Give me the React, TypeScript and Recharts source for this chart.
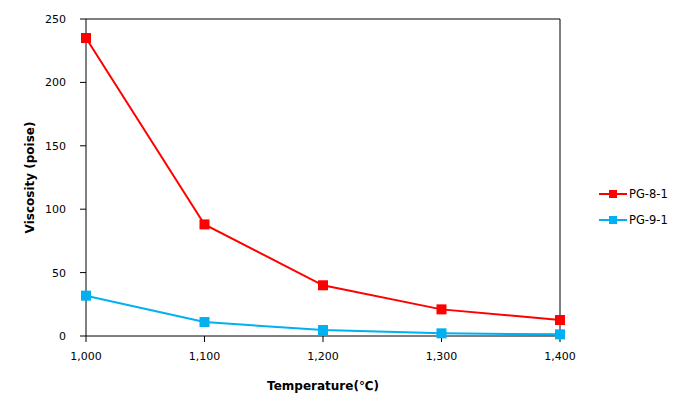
import { LineChart, Line, XAxis, YAxis, ReferenceLine, Label } from 'recharts';

const temperatures = [1000, 1100, 1200, 1300, 1400];
const pg81 = [235, 88, 40, 21, 12.6];
const pg91 = [31.8, 11, 4.7, 2.1, 1.3];
const yTicks = [0, 50, 100, 150, 200, 250];

const series = [
  { key: 'pg81', name: 'PG-8-1', color: '#ff0000' },
  { key: 'pg91', name: 'PG-9-1', color: '#00b0f0' },
];

const data = temperatures.map((t, i) => ({ temp: t, pg81: pg81[i], pg91: pg91[i] }));

const font = '"DejaVu Sans", Verdana, sans-serif';

const SquareDot = (color: string) => (props: any) => {
  const { cx, cy, index } = props;
  if (cx == null || cy == null) return null;
  return <rect key={`d-${index}`} x={cx - 5} y={cy - 5} width={10} height={10} fill={color} />;
};

const LegendBox = () => (
  <div style={{ position: 'absolute', left: 599, top: 181, fontFamily: font, fontSize: 11.5 }}>
    {series.map((s) => (
      <div key={s.key} style={{ display: 'flex', alignItems: 'center', height: 26 }}>
        <svg width={29} height={10}>
          <line x1={0} y1={5} x2={28} y2={5} stroke={s.color} strokeWidth={2} />
          <rect x={10} y={1} width={8} height={8} fill={s.color} />
        </svg>
        <span style={{ marginLeft: 1, color: '#000' }}>{s.name}</span>
      </div>
    ))}
  </div>
);

export default function App() {
  return (
    <div style={{ position: 'absolute', left: 0, top: 0, width: 685, height: 414, background: '#fff' }}>
      <LineChart
        width={685}
        height={414}
        data={data}
        margin={{ top: 19, right: 125, bottom: 18, left: 26 }}
      >
        <XAxis
          dataKey="temp"
          type="number"
          domain={[1000, 1400]}
          ticks={temperatures}
          tickFormatter={(v: number) => v.toLocaleString('en-US')}
          stroke="#000"
          tick={{ fill: '#000', fontSize: 11, fontFamily: font }}
          tickSize={6}
          tickMargin={10}
          height={60}
        >
          <Label
            value="Temperature(℃)"
            position="insideBottom"
            offset={6}
            style={{ fontWeight: 'bold', fontSize: 12, fontFamily: font, fill: '#000' }}
          />
        </XAxis>
        <YAxis
          type="number"
          domain={[0, 250]}
          ticks={yTicks}
          stroke="#000"
          tick={{ fill: '#000', fontSize: 11, fontFamily: font }}
          tickSize={6}
          tickMargin={14}
          width={60}
        >
          <Label
            value="Viscosity (poise)"
            angle={-90}
            position="center"
            dx={-26}
            style={{ fontWeight: 'bold', fontSize: 12, fontFamily: font, fill: '#000', textAnchor: 'middle' }}
          />
        </YAxis>
        <ReferenceLine y={250} stroke="#000" />
        <ReferenceLine x={1400} stroke="#000" />
        {series.map((s) => (
          <Line
            key={s.key}
            dataKey={s.key}
            name={s.name}
            stroke={s.color}
            strokeWidth={2}
            dot={SquareDot(s.color)}
            activeDot={false}
            isAnimationActive={false}
          />
        ))}
      </LineChart>
      <LegendBox />
    </div>
  );
}
